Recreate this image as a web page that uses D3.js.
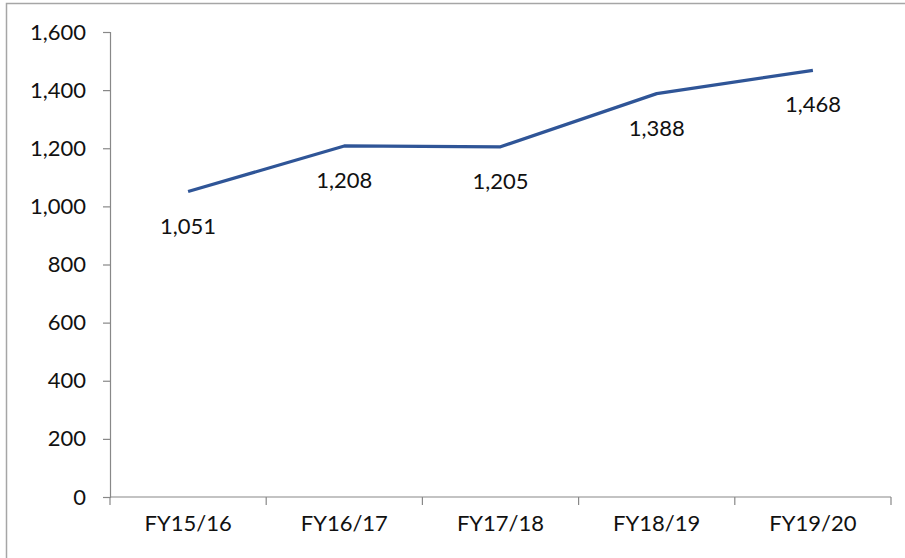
<!DOCTYPE html>
<html><head><meta charset="utf-8">
<script src="https://cdn.jsdelivr.net/npm/d3@7"></script>
<style>body{margin:0;background:#fff}svg{display:block}text{font-family:Lato,"Open Sans",sans-serif}</style>
</head><body>
<script>
const categories = ["FY15/16","FY16/17","FY17/18","FY18/19","FY19/20"];
const values = [1051,1208,1205,1388,1468];
const yTicks = [0,200,400,600,800,1000,1200,1400,1600];

(function(){
const W=905,H=558;
const svg=d3.select("body").append("svg").attr("width",W).attr("height",H);
svg.append("rect").attr("x",6.5).attr("y",3.5).attr("width",W+10).attr("height",H+10)
  .attr("fill","none").attr("stroke","#a6a6a6").attr("stroke-width",1.5);

const pl=110,pr=891,pt=32,pb=497;
const x=d3.scaleBand().domain(categories).range([pl,pr]);
const y=d3.scaleLinear().domain([0,1600]).range([pb,pt]);

const ya=svg.append("g").attr("transform",`translate(${pl},0)`)
  .call(d3.axisLeft(y).tickValues(yTicks).tickFormat(d3.format(",")).tickSize(7).tickPadding(17));
const xa=svg.append("g").attr("transform",`translate(0,${pb})`)
  .call(d3.axisBottom(x).tickSize(0).tickPadding(18));
xa.selectAll(".bt").data(d3.range(categories.length+1)).enter().append("line")
  .attr("x1",i=>pl+i*x.step()).attr("x2",i=>pl+i*x.step()).attr("y1",0).attr("y2",8)
  .attr("stroke","#888").attr("stroke-width",1.2);
[ya,xa].forEach(g=>{
  g.select(".domain").attr("stroke","#888").attr("stroke-width",1.2);
  g.selectAll(".tick line").attr("stroke","#888").attr("stroke-width",1.2);
  g.selectAll("text").attr("font-size",22).attr("fill","#111").style("font-family","Lato, sans-serif");
});
xa.select(".domain").attr("d",`M${pl},0H${pr}`);

const cx=d=>x(d)+x.bandwidth()/2;
svg.append("path").datum(values)
  .attr("d",d3.line().x((d,i)=>cx(categories[i])).y(d=>y(d)))
  .attr("fill","none").attr("stroke","#2F5597").attr("stroke-width",3.2).attr("stroke-linejoin","round");

svg.selectAll(".lbl").data(values).enter().append("text")
  .attr("x",(d,i)=>cx(categories[i])).attr("y",d=>y(d)+42)
  .attr("text-anchor","middle").attr("font-size",22).attr("fill","#111")
  .text(d=>d3.format(",")(d));
})();
</script>
</body></html>
